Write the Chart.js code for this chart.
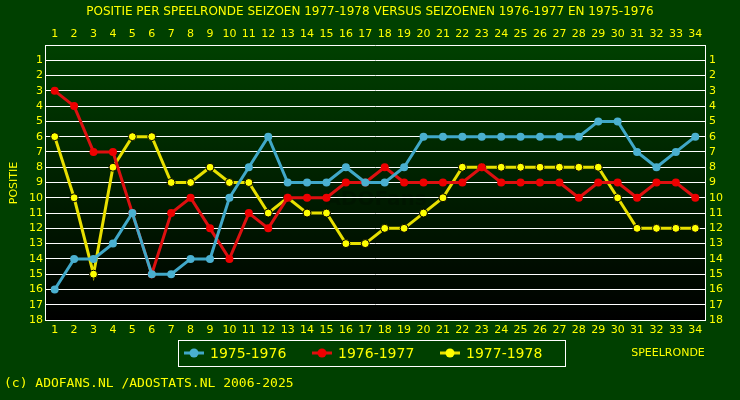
<!DOCTYPE html>
<html>
<head>
<meta charset="utf-8">
<script src="https://cdn.jsdelivr.net/npm/chart.js@4"></script>
<style>
  body { margin: 0; background: #004000; }
  #wrap { width: 740px; height: 400px; }
</style>
</head>
<body>
<div id="wrap"><canvas id="chart"></canvas></div>
<script>
// speelrondes 1..34
const rounds = Array.from({length: 34}, (_, i) => i + 1);
const seizoen7576 = [16,14,14,13,11,15,15,14,14,10,8,6,9,9,9,8,9,9,8,6,6,6,6,6,6,6,6,6,5,5,7,8,7,6];
const seizoen7677 = [3,4,7,7,11,15,11,10,12,14,11,12,10,10,10,9,9,8,9,9,9,9,8,9,9,9,9,10,9,9,10,9,9,10];
const seizoen7778 = [6,10,15,8,6,6,9,9,8,9,9,11,10,11,11,13,13,12,12,11,10,8,8,8,8,8,8,8,8,10,12,12,12,12];
const seriesLabels = ['1975-1976', '1976-1977', '1977-1978'];
const seriesColors = ['#4ab0d0', '#ee0000', '#ffff00'];
const lineColors = ['#40a8c8', '#dd1010', '#e8e000'];

const YEL = '#ffff00';
const tickFont = { family: 'DejaVu Sans', size: 11 };

function ds(values, i) {
    return {
        label: seriesLabels[i],
        data: values.map((v, k) => ({ x: rounds[k], y: v })),
        borderColor: lineColors[i],
        backgroundColor: seriesColors[i],
        pointBorderColor: i === 2 ? '#000' : seriesColors[i],
        pointBorderWidth: i === 2 ? 1 : 0,
        pointRadius: 4,
        borderWidth: 3,
        tension: 0
    };
}

// achtergrond, titel, legenda en voettekst
const decor = {
    id: 'decor',
    beforeDraw(chart) {
        const { ctx, chartArea: a } = chart;
        ctx.save();
        ctx.fillStyle = '#004000';
        ctx.fillRect(0, 0, chart.width, chart.height);
        const g = ctx.createLinearGradient(0, a.top, 0, a.bottom);
        g.addColorStop(0, '#004000');
        g.addColorStop(1, '#000000');
        ctx.fillStyle = g;
        ctx.fillRect(a.left, a.top, a.right - a.left, a.bottom - a.top);
        ctx.fillStyle = 'rgba(0,0,0,0.18)';
        ctx.textAlign = 'center';
        ctx.textBaseline = 'middle';
        ctx.font = 'bold 20px DejaVu Sans';
        ctx.fillText('ADOFans', 376, 200);
        ctx.restore();
    },
    afterDraw(chart) {
        const { ctx } = chart;
        ctx.save();
        ctx.fillStyle = YEL;
        ctx.textBaseline = 'middle';
        ctx.textAlign = 'center';
        ctx.font = '12px DejaVu Sans';
        ctx.fillText('POSITIE PER SPEELRONDE SEIZOEN 1977-1978 VERSUS SEIZOENEN 1976-1977 EN 1975-1976', 370, 12);
        ctx.font = '11px DejaVu Sans';
        ctx.fillText('SPEELRONDE', 668, 353);
        ctx.save();
        ctx.translate(14, 183);
        ctx.rotate(-Math.PI / 2);
        ctx.fillText('POSITIE', 0, 0);
        ctx.restore();
        ctx.textAlign = 'left';
        ctx.font = '13px DejaVu Sans Mono';
        ctx.fillText('(c) ADOFANS.NL /ADOSTATS.NL 2006-2025', 4, 384);

        // legenda
        ctx.strokeStyle = '#ffffff';
        ctx.lineWidth = 1;
        ctx.strokeRect(178.5, 340.5, 387, 26);
        const xs = [184, 312, 440];
        ctx.font = '14px DejaVu Sans';
        xs.forEach((x, i) => {
            ctx.strokeStyle = lineColors[i];
            ctx.lineWidth = 3;
            ctx.beginPath();
            ctx.moveTo(x, 353);
            ctx.lineTo(x + 20, 353);
            ctx.stroke();
            ctx.fillStyle = seriesColors[i];
            ctx.beginPath();
            ctx.arc(x + 10, 353, 4.5, 0, Math.PI * 2);
            ctx.fill();
            ctx.fillStyle = YEL;
            ctx.fillText(seriesLabels[i], x + 26, 354);
        });
        ctx.restore();
    }
};

const xCommon = {
    type: 'linear', min: 0.5, max: 34.5,
    grid: { display: false, drawTicks: false },
    border: { color: '#ffffff' },
    ticks: {
        color: YEL, font: tickFont, stepSize: 1, maxRotation: 0, autoSkip: false, padding: 4,
        callback: v => (Number.isInteger(v) ? v : '')
    },
    afterBuildTicks: s => { s.ticks = rounds.map(r => ({ value: r })); }
};
const yCommon = {
    min: 0, max: 18, reverse: true,
    border: { color: '#ffffff' },
    ticks: { color: YEL, font: tickFont, stepSize: 1, autoSkip: false, padding: 2, callback: v => (v === 0 ? '' : v) }
};

new Chart(document.getElementById('chart'), {
    type: 'line',
    data: { datasets: [ds(seizoen7576, 0), ds(seizoen7677, 1), ds(seizoen7778, 2)] },
    options: {
        responsive: true,
        maintainAspectRatio: false,
        animation: false,
        layout: { padding: 0 },
        plugins: { legend: { display: false }, tooltip: { enabled: false } },
        scales: {
            x: Object.assign({}, xCommon, { position: 'bottom', afterFit: s => { s.height = 80; } }),
            x2: Object.assign({}, xCommon, { position: 'top', afterFit: s => { s.height = 45; } }),
            y: Object.assign({}, yCommon, {
                position: 'left',
                grid: { color: c => (c.tick.value === 0 ? 'transparent' : '#ffffff'), drawTicks: false },
                afterFit: s => { s.width = 45; }
            }),
            y2: Object.assign({}, yCommon, {
                position: 'right',
                grid: { display: false, drawTicks: false },
                ticks: Object.assign({}, yCommon.ticks, { padding: 4 }),
                afterFit: s => { s.width = 35; }
            })
        }
    },
    plugins: [decor]
});
</script>
</body>
</html>
